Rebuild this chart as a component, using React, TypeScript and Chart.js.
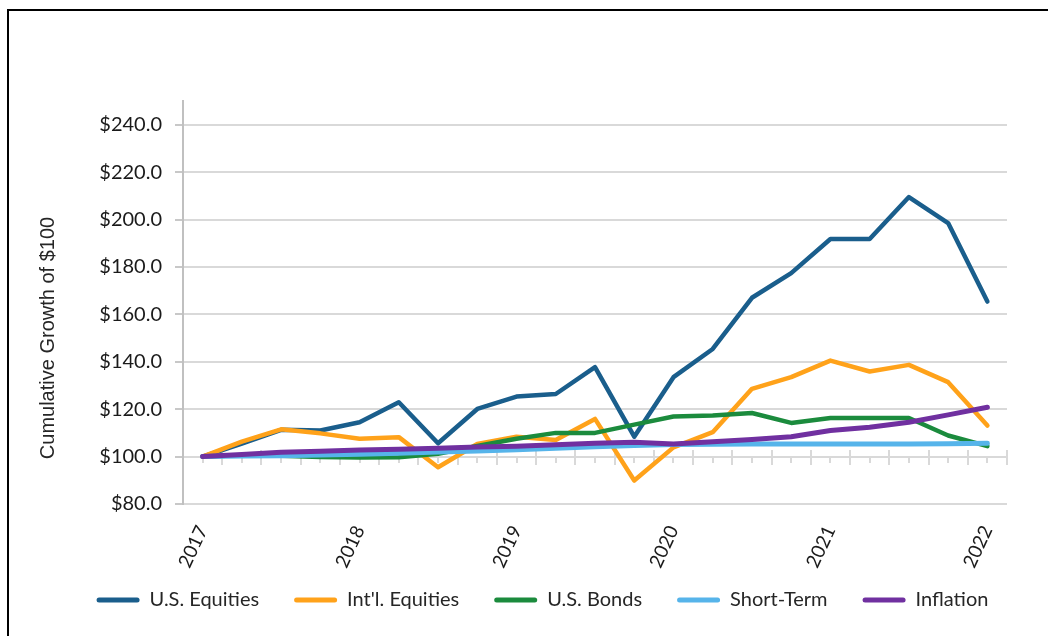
import React, { useEffect, useRef } from 'react';
import { Chart, registerables } from 'chart.js';

Chart.register(...registerables);

// ---- data ----
const quarters = [
  'Q1 2017', 'Q2 2017', 'Q3 2017', 'Q4 2017',
  'Q1 2018', 'Q2 2018', 'Q3 2018', 'Q4 2018',
  'Q1 2019', 'Q2 2019', 'Q3 2019', 'Q4 2019',
  'Q1 2020', 'Q2 2020', 'Q3 2020', 'Q4 2020',
  'Q1 2021', 'Q2 2021', 'Q3 2021', 'Q4 2021',
  'Q1 2022',
];
const yearTickLabels = ['2017', '2018', '2019', '2020', '2021', '2022'];
const yTickValues = [80, 100, 120, 140, 160, 180, 200, 220, 240];
const yAxisTitle = 'Cumulative Growth of $100';

const usEquities = [100, 105.5, 111.3, 111.0, 114.5, 122.9, 105.6, 120.1, 125.3, 126.4, 137.7, 108.4, 133.5, 145.4, 167.0, 177.4, 191.8, 191.8, 209.5, 198.5, 165.4];
const intlEquities = [100, 106.3, 111.5, 109.8, 107.5, 108.2, 95.5, 105.3, 108.4, 107.0, 115.9, 89.9, 103.9, 110.3, 128.6, 133.5, 140.5, 135.9, 138.7, 131.4, 113.1];
const usBonds = [100, 100.6, 100.4, 99.8, 99.6, 99.7, 101.2, 104.5, 107.5, 110.0, 110.0, 113.5, 116.9, 117.3, 118.4, 114.2, 116.3, 116.3, 116.3, 108.9, 104.4];
const shortTerm = [100, 100.2, 100.4, 100.7, 101.0, 101.4, 101.9, 102.4, 102.9, 103.5, 104.1, 104.7, 105.1, 105.2, 105.3, 105.3, 105.3, 105.3, 105.3, 105.4, 105.6];
const inflation = [100, 100.9, 101.8, 102.2, 102.8, 103.1, 103.5, 104.0, 104.4, 105.0, 105.6, 106.0, 105.3, 106.3, 107.2, 108.4, 111.0, 112.4, 114.5, 117.6, 120.8];

const seriesNames = ['U.S. Equities', "Int'l. Equities", 'U.S. Bonds', 'Short-Term', 'Inflation'];
const seriesColors = ['#1A5E8C', '#FFA21A', '#1B8B3D', '#56B4EA', '#7030A0'];

const FONT = 'Lato, "Noto Sans", sans-serif';

const yTitlePlugin = {
  id: 'yTitle',
  afterDraw(chart: any) {
    const { ctx } = chart;
    ctx.save();
    ctx.translate(48, 338);
    ctx.rotate(-Math.PI / 2);
    ctx.font = '20px "Liberation Sans", Arial, sans-serif';
    ctx.fillStyle = '#262626';
    ctx.textAlign = 'center';
    ctx.textBaseline = 'middle';
    ctx.fillText(yAxisTitle, 0, 0);
    ctx.restore();
  },
};

export default function App() {
  const ref = useRef<HTMLCanvasElement>(null);

  useEffect(() => {
    const canvas = ref.current;
    if (!canvas) return;
    const values = [usEquities, intlEquities, usBonds, shortTerm, inflation];
    const widths = [4.5, 4.5, 4.5, 5, 5];
    const chart = new Chart(canvas, {
      type: 'line',
      data: {
        labels: quarters,
        datasets: values.map((d, i) => ({
          label: seriesNames[i],
          data: d,
          borderColor: seriesColors[i],
          backgroundColor: seriesColors[i],
          borderWidth: widths[i],
          pointRadius: 0,
          pointHoverRadius: 0,
          tension: 0,
          borderJoinStyle: 'round',
          borderCapStyle: 'round',
          order: values.length - 1 - i,
          xAxisID: 'x',
          yAxisID: 'y',
        })),
      },
      options: {
        responsive: false,
        animation: false,
        layout: { padding: { top: 101, left: 37, right: 0, bottom: 16 } },
        plugins: {
          tooltip: { enabled: false },
          legend: {
            position: 'bottom',
            labels: {
              boxWidth: 43,
              boxHeight: 5,
              padding: 35,
              color: '#262626',
              font: { family: FONT, size: 20 },
              useBorderRadius: true,
              borderRadius: 2.5,
              sort: (a: any, b: any) => a.datasetIndex - b.datasetIndex,
              generateLabels: (c: any) =>
                Chart.defaults.plugins.legend.labels
                  .generateLabels(c)
                  .map((it: any) => ({ ...it, lineWidth: 0 })),
            },
          },
        },
        scales: {
          x: {
            type: 'category',
            position: { y: 80 },
            offset: true,
            grid: { display: false, drawTicks: false },
            border: { display: false },
            ticks: {
              autoSkip: false,
              minRotation: 65,
              maxRotation: 65,
              padding: 18,
              color: '#1a1a1a',
              font: { family: FONT, size: 19 },
              callback: (_v: any, i: number) => (i % 4 === 0 ? yearTickLabels[i / 4] : ''),
            },
          },
          bottomSpace: {
            type: 'category',
            position: 'bottom',
            grid: { display: false, drawTicks: false },
            border: { display: false },
            ticks: { display: false },
            afterFit: (s: any) => {
              s.height = 51;
            },
          },
          xAxisLine: {
            type: 'category',
            position: { y: 100 },
            offset: true,
            grid: { offset: true, drawOnChartArea: false, tickLength: 7, color: '#d9d9d9', lineWidth: 2 },
            border: { display: true, color: '#d9d9d9', width: 2 },
            ticks: { display: false },
          },
          xAxisUp: {
            type: 'category',
            position: { y: 100 },
            offset: true,
            grid: { offset: true, drawOnChartArea: false, tickLength: -7, color: '#d9d9d9', lineWidth: 2 },
            border: { display: false },
            ticks: { display: false },
          },
          xAxisMinor: {
            type: 'category',
            position: { y: 100 },
            offset: true,
            grid: { offset: false, drawOnChartArea: false, tickLength: 6, color: '#d9d9d9', lineWidth: 2 },
            border: { display: false },
            ticks: { display: false },
          },
          y: {
            type: 'linear',
            position: 'left',
            min: 80,
            max: 250,
            afterBuildTicks: (s: any) => {
              s.ticks = yTickValues.map((v) => ({ value: v }));
            },
            grid: { color: '#d9d9d9', lineWidth: 2, tickLength: 8, tickColor: '#c8c8c8' },
            border: { display: true, color: '#c0c0c0', width: 2 },
            ticks: {
              padding: 13,
              color: '#1a1a1a',
              font: { family: FONT, size: 20 },
              callback: (v: any) => '$' + Number(v).toFixed(1),
            },
            afterFit: (s: any) => {
              s.width = 146;
            },
          },
          rightSpace: {
            type: 'linear',
            position: 'right',
            grid: { display: false, drawTicks: false },
            border: { display: false },
            ticks: { display: false },
            afterFit: (s: any) => {
              s.width = 41;
            },
          },
        },
      } as any,
      plugins: [yTitlePlugin],
    });
    return () => chart.destroy();
  }, []);

  return (
    <div
      style={{
        position: 'fixed',
        left: 0,
        top: 0,
        width: 1048,
        height: 636,
        overflow: 'hidden',
        background: '#fff',
      }}
    >
      <canvas
        ref={ref}
        width={1048}
        height={636}
        style={{ position: 'absolute', left: 0, top: 0, width: 1048, height: 636 }}
      />
      <div
        style={{
          position: 'absolute',
          left: 7,
          top: 9,
          width: 2000,
          height: 2000,
          border: '2.5px solid #000',
          pointerEvents: 'none',
        }}
      />
    </div>
  );
}
